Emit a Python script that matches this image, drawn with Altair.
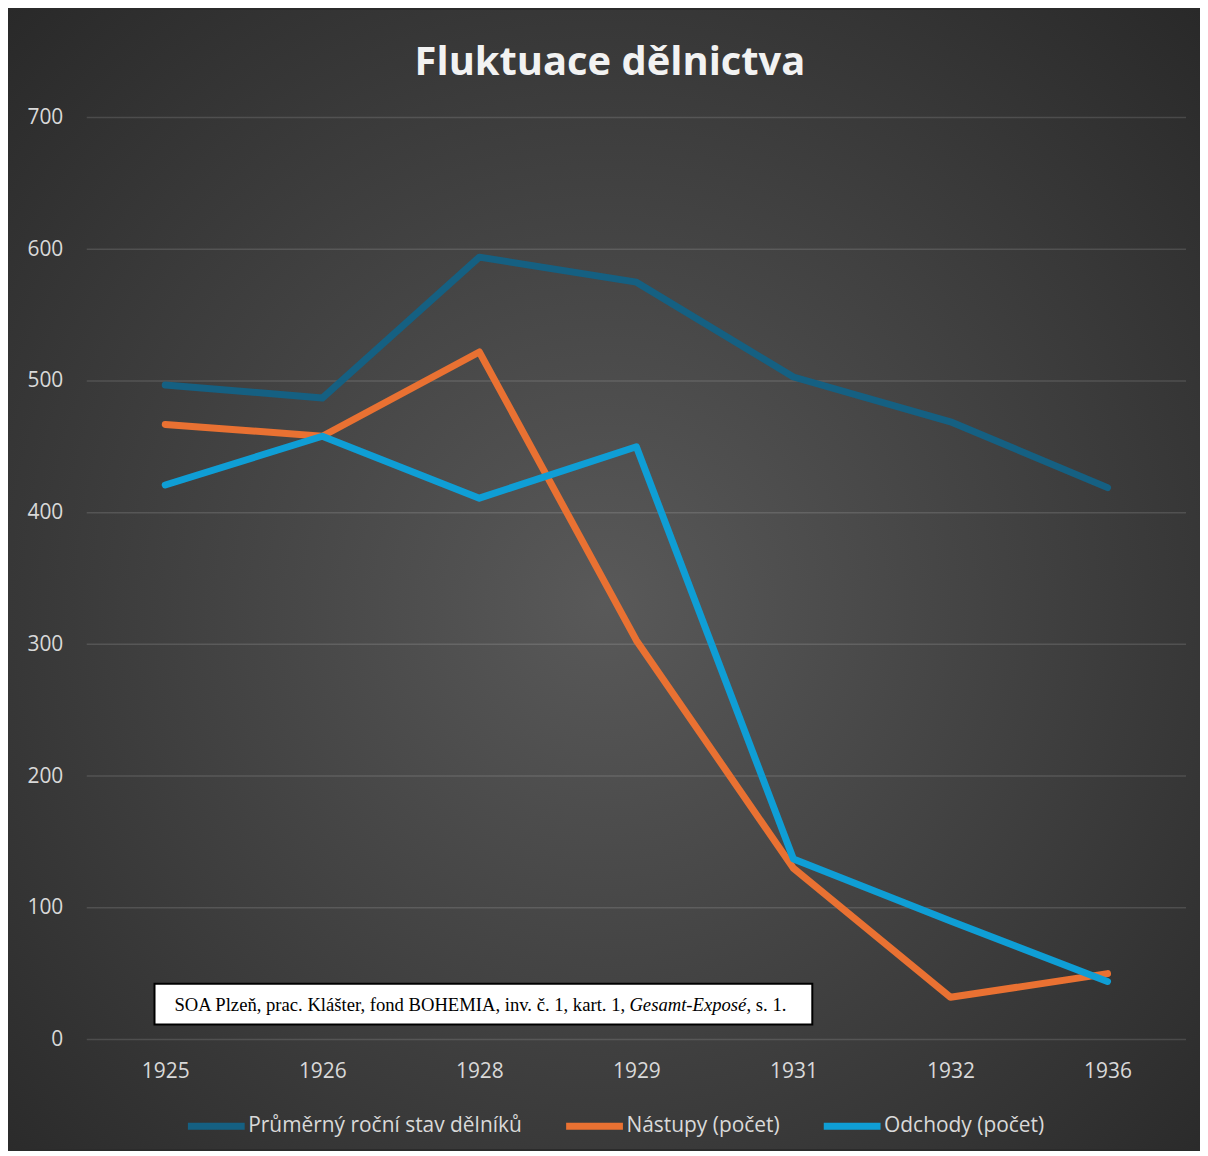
import altair as alt
import pandas as pd

# ---- data ----
roky = ["1925", "1926", "1928", "1929", "1931", "1932", "1936"]
serie = ["Průměrný roční stav dělníků", "Nástupy (počet)", "Odchody (počet)"]
prumerny = [497, 487, 594, 575, 503, 469, 419]
nastupy = [467, 458, 522, 303, 130, 32, 50]
odchody = [421, 458, 411, 450, 137, 90, 44]
barvy = ["#156082", "#E97132", "#0F9ED5"]
y_ticks = [0, 100, 200, 300, 400, 500, 600, 700]
nadpis = "Fluktuace dělnictva"
zdroj_1 = "SOA Plzeň, prac. Klášter, fond BOHEMIA, inv. č. 1, kart. 1, "
zdroj_2 = "Gesamt-Exposé"
zdroj_3 = ", s. 1."

rows = []
for name, vals in zip(serie, [prumerny, nastupy, odchody]):
    for r, v in zip(roky, vals):
        rows.append({"rok": r, "serie": name, "hodnota": v})
df = pd.DataFrame(rows)

W, H = 1103, 925
PL, PT, PR, PB = 79, 108, 14, 110

one = alt.Data(values=[{"a": 1}])

y_axis = alt.Axis(title=None, values=y_ticks, domain=False, ticks=False,
                  tickSize=0, grid=False, labelPadding=24, zindex=1,
                  labelFont="Open Sans", labelFontSize=21,
                  labelColor="#d9d9d9")
y_scale = alt.Scale(domain=[0, 700])

bg = alt.Chart(one).mark_rect(
    fill={
        "gradient": "radial",
        "x1": 0.5, "y1": 0.52, "r1": 0,
        "x2": 0.5, "y2": 0.52, "r2": 0.75,
        "stops": [
            {"offset": 0, "color": "#595959"},
            {"offset": 1, "color": "#262626"},
        ],
    }
).encode(
    x=alt.value(-PL), x2=alt.value(W + PR),
    y=alt.value(-PT), y2=alt.value(H + PB),
)

grid = alt.Chart(alt.Data(values=[{"hodnota": t} for t in y_ticks])).mark_rule(
    color="#ffffff", strokeOpacity=0.13, strokeWidth=1.5
).encode(
    y=alt.Y("hodnota:Q", scale=y_scale, axis=y_axis),
    x=alt.value(0), x2=alt.value("width"),
)

lines = alt.Chart(df).mark_line(
    strokeWidth=7, strokeCap="round", strokeJoin="round"
).encode(
    x=alt.X("rok:O", sort=roky, scale=alt.Scale(type="point", padding=0.5),
            axis=alt.Axis(title=None, labelAngle=0, domain=False, ticks=False,
                          tickSize=0, grid=False, labelPadding=21, zindex=1,
                          labelFont="Open Sans", labelFontSize=21,
                          labelColor="#d9d9d9")),
    y=alt.Y("hodnota:Q", scale=y_scale, axis=y_axis),
    color=alt.Color("serie:N", sort=serie,
                    scale=alt.Scale(domain=serie, range=barvy),
                    legend=alt.Legend(orient="none", legendX=98, legendY=980,
                                      direction="horizontal", title=None,
                                      symbolType="stroke", symbolSize=3249,
                                      symbolStrokeWidth=7, labelFont="Open Sans",
                                      labelFontSize=21, labelColor="#d9d9d9",
                                      labelOffset=0, columnPadding=29.5,
                                      labelLimit=500, padding=0, zindex=1)),
    order=alt.Order("serie_idx:Q"),
).transform_calculate(
    serie_idx=f"indexof({serie!r}, datum.serie)"
)

title = alt.Chart(one).mark_text(
    text=nadpis, align="center", baseline="alphabetic", font="Open Sans",
    fontSize=40, fontWeight="bold", color="#f2f2f2"
).encode(x=alt.value(612 - 87), y=alt.value(73 - 116))

box = alt.Chart(one).mark_rect(
    fill="white", stroke="black", strokeWidth=2
).encode(
    x=alt.value(155 - 87), x2=alt.value(815 - 87),
    y=alt.value(985 - 116), y2=alt.value(1026 - 116),
)

FS = 18.7
t1 = alt.Chart(one).mark_text(
    text=zdroj_1, align="left", baseline="middle", font="Liberation Serif",
    fontSize=FS, color="black"
).encode(x=alt.value(88), y=alt.value(890))
t2 = alt.Chart(one).mark_text(
    text=zdroj_2, align="left", baseline="middle", font="Liberation Serif",
    fontSize=FS, fontStyle="italic", color="black"
).encode(x=alt.value(544.5), y=alt.value(890))
t3 = alt.Chart(one).mark_text(
    text=zdroj_3, align="left", baseline="middle", font="Liberation Serif",
    fontSize=FS, color="black"
).encode(x=alt.value(662), y=alt.value(890))

chart = alt.layer(bg, grid, lines, title, box, t1, t2, t3).properties(
    width=W, height=H,
    autosize=alt.AutoSizeParams(type="none"),
    padding={"left": PL, "top": PT, "right": PR, "bottom": PB},
    background="#2b2b2b",
).configure_view(stroke="transparent")

chart.save("out.html", embed_options={"renderer": "svg", "actions": False})
